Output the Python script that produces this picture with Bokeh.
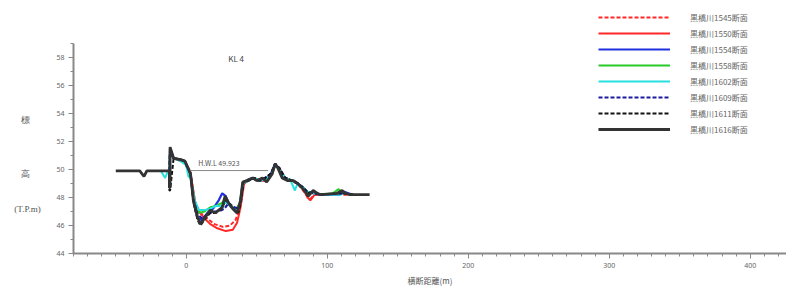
from bokeh.plotting import figure
from bokeh.models import FixedTicker, Label, Range1d
from bokeh.layouts import row
from bokeh.embed import file_html
from bokeh.resources import INLINE

# ---------------- data ----------------
names = ["黒橋川1545断面", "黒橋川1550断面", "黒橋川1554断面", "黒橋川1558断面",
         "黒橋川1602断面", "黒橋川1609断面", "黒橋川1611断面", "黒橋川1616断面"]

x1545 = [-12, -11.5, -9, -4, -1, 3, 6, 10, 15, 20, 26, 31, 35, 38, 40.5, 43, 47, 50, 54, 57, 61, 63, 65, 68, 72, 76, 79, 82, 85, 88, 91, 94, 100, 108, 112, 118]
y1545 = [49.9, 51.4, 50.8, 50.7, 50.6, 49.8, 47.6, 46.9, 46.5, 46.1, 45.9, 46.0, 46.4, 47.3, 48.9, 49.2, 49.4, 49.2, 49.4, 49.1, 49.7, 50.4, 50.1, 49.4, 49.2, 49.2, 49.0, 48.6, 48.2, 47.9, 48.2, 48.2, 48.2, 48.3, 48.2, 48.2]

x1550 = [-12, -11.5, -9, -4, -1, 3, 7, 12, 17, 22, 28, 33, 36, 38.5, 41, 44, 48, 52, 56, 60, 63, 66, 70, 75, 79, 83, 86, 88, 91, 95, 105, 110, 115]
y1550 = [49.9, 51.4, 50.8, 50.6, 50.5, 49.7, 47.3, 46.6, 46.1, 45.8, 45.6, 45.7, 46.2, 47.3, 49.0, 49.2, 49.4, 49.2, 49.2, 49.6, 50.3, 50.1, 49.4, 49.2, 49.0, 48.6, 48.0, 47.8, 48.2, 48.2, 48.2, 48.4, 48.2]

x1554 = [-12, -11.5, -9, -4, -1, 3, 5.5, 8, 11, 15, 19, 23, 25.5, 28, 31, 35, 38, 40, 44, 48, 52, 56, 60, 63, 66, 70, 75, 79, 83, 86, 90, 95, 108, 112, 118]
y1554 = [49.9, 51.5, 50.8, 50.7, 50.5, 49.6, 47.5, 46.5, 46.4, 46.9, 47.2, 47.8, 48.3, 48.1, 47.4, 47.0, 47.5, 49.0, 49.3, 49.4, 49.2, 49.3, 49.7, 50.4, 50.0, 49.4, 49.2, 49.0, 48.7, 48.3, 48.4, 48.2, 48.2, 48.4, 48.2]

x1558 = [-12, -11.5, -9, -4, -1, 3, 6, 9, 13, 17, 21, 25, 28, 31, 35, 38, 40, 44, 48, 52, 56, 60, 63, 66, 70, 75, 79, 83, 86, 90, 95, 104, 108, 111, 118]
y1558 = [49.9, 51.4, 50.8, 50.7, 50.5, 49.6, 47.6, 46.9, 47.0, 47.3, 47.4, 47.6, 47.9, 47.5, 47.1, 47.6, 49.0, 49.2, 49.4, 49.2, 49.3, 49.6, 50.3, 50.0, 49.4, 49.2, 49.0, 48.7, 48.4, 48.4, 48.2, 48.3, 48.6, 48.3, 48.2]

x1602 = [-18, -15, -13, -12, -11.5, -9, -4, 0, 1.5, 3, 6, 9, 13, 17, 21, 25, 28, 31, 35, 38, 40, 44, 48, 52, 56, 60, 63, 66, 70, 74, 77, 79, 83, 86, 90, 95, 110]
y1602 = [49.9, 49.4, 49.9, 49.9, 51.3, 50.8, 50.6, 50.3, 49.5, 49.4, 47.8, 47.1, 47.1, 47.2, 47.4, 47.4, 47.7, 47.4, 47.0, 47.5, 49.0, 49.2, 49.4, 49.2, 49.3, 49.6, 50.3, 50.0, 49.4, 49.2, 48.5, 49.0, 48.7, 48.4, 48.3, 48.2, 48.2]

x1609 = [-12, -11.5, -9, -4, -1, 3, 5, 8, 11, 15, 19, 23, 27, 30, 34, 37, 39, 40.5, 44, 48, 52, 56, 60, 63, 66, 70, 75, 79, 83, 86, 90, 95, 110, 118]
y1609 = [49.9, 51.5, 50.8, 50.7, 50.6, 49.7, 47.9, 46.8, 46.5, 46.8, 47.0, 47.0, 47.2, 47.6, 47.3, 47.2, 48.0, 49.1, 49.2, 49.4, 49.2, 49.4, 49.7, 50.4, 50.1, 49.4, 49.2, 49.0, 48.7, 48.4, 48.3, 48.2, 48.3, 48.2]

x1611 = [-12, -12, -11.5, -9, -4, -1, 3, 5, 8, 10, 13.5, 17, 21, 25, 28, 31, 34, 37, 39, 40.5, 44, 48, 52, 56, 60, 63, 66, 70, 75, 79, 83, 86, 90, 95, 110, 120]
y1611 = [49.9, 48.5, 48.5, 50.8, 50.7, 50.6, 49.7, 47.7, 46.4, 46.0, 46.5, 46.9, 46.9, 47.2, 47.8, 47.5, 47.1, 46.9, 47.8, 49.1, 49.2, 49.4, 49.2, 49.4, 49.7, 50.4, 50.1, 49.4, 49.2, 49.0, 48.7, 48.3, 48.4, 48.2, 48.3, 48.2]

x1616 = [-50, -33, -30, -28, -12, -12, -11.5, -11.5, -9, -4, -1, 3, 5, 8, 10, 13.5, 17, 20.5, 25.5, 27.5, 30, 33, 36, 38.5, 40, 43, 47, 50, 54, 57, 61, 63, 65, 68, 72, 76, 79, 82, 84.5, 86.5, 90, 93, 95, 107, 110.5, 113, 116, 130]
y1616 = [49.9, 49.9, 49.5, 49.9, 49.9, 48.7, 48.7, 51.6, 50.8, 50.7, 50.6, 49.7, 47.8, 46.6, 46.1, 46.6, 47.1, 46.9, 47.3, 48.1, 47.6, 47.2, 46.9, 47.8, 49.1, 49.2, 49.4, 49.2, 49.4, 49.1, 49.7, 50.4, 50.1, 49.4, 49.2, 49.2, 49.0, 48.7, 48.4, 48.1, 48.5, 48.3, 48.2, 48.3, 48.5, 48.3, 48.2, 48.2]

hwl_value = 49.923
hwl_x = [3, 58]
x_major = [0, 100, 200, 300, 400]
y_major = [44, 46, 48, 50, 52, 54, 56, 58]
ylabel_parts = ["標", "高", "(T.P.m)"]
ylabel_at = [53.5, 49.7, 47.2]

series = [
    (x1545, y1545, "#ff2828", "4 2", 2.0),
    (x1550, y1550, "#ff2828", "solid", 2.0),
    (x1554, y1554, "#2030e0", "solid", 2.2),
    (x1558, y1558, "#28cc28", "solid", 2.0),
    (x1602, y1602, "#28e0e0", "solid", 2.0),
    (x1609, y1609, "#1a1aa0", "4 2", 2.2),
    (x1611, y1611, "#111111", "4 2", 2.0),
    (x1616, y1616, "#333333", "solid", 2.8),
]

FONT = "Noto Sans CJK JP"
H = 289
SIDE_W = 45
YR = (44, 62.07)

# ---------------- left strip with the vertical axis title ----------------
side = figure(width=SIDE_W, height=H, output_backend="svg", toolbar_location=None,
              x_range=Range1d(0, SIDE_W), y_range=Range1d(*YR),
              x_axis_location=None, y_axis_location=None,
              min_border=0, min_border_bottom=36)
side.outline_line_color = None
side.xgrid.visible = False
side.ygrid.visible = False
side.text(x=[25, 25, 27], y=ylabel_at, text=ylabel_parts,
          text_font=FONT, text_font_size={"value": "9px"}, text_color="#555555",
          text_baseline="middle", text_align="center")

# ---------------- main chart ----------------
p = figure(width=786 - SIDE_W, height=H, output_backend="svg", toolbar_location=None,
           x_range=Range1d(-80, 425.7), y_range=Range1d(*YR),
           min_border_left=28, min_border_right=0, min_border_top=0, min_border_bottom=36)
p.outline_line_color = None
p.xgrid.visible = False
p.ygrid.visible = False

for (xs, ys, c, dash, w), nm in zip(series, names):
    p.line(xs, ys, line_color=c, line_dash=dash, line_width=w, legend_label=nm)

p.line(hwl_x, [hwl_value, hwl_value], line_color="#888888", line_width=1)
p.add_layout(Label(x=8.5, y=50.43, text="H.W.L  %.3f" % hwl_value,
                   text_font=FONT, text_font_size="7px", text_color="#555555",
                   text_baseline="middle"))
p.add_layout(Label(x=29.8, y=57.93, text="KL 4", text_font=FONT, text_font_size="8px",
                   text_color="#444444", text_baseline="middle"))

for ax in (p.xaxis[0], p.yaxis[0]):
    ax.axis_line_color = "#888888"
    ax.axis_line_width = 2
    ax.major_tick_line_color = "#888888"
    ax.minor_tick_line_color = "#888888"
    ax.major_tick_in = 0
    ax.minor_tick_in = 0
    ax.major_tick_out = 5
    ax.minor_tick_out = 3
    ax.major_label_text_font = "Noto Sans"
    ax.major_label_text_font_size = "7px"
    ax.major_label_text_color = "#666666"
    ax.major_label_standoff = 4

p.xaxis.ticker = FixedTicker(ticks=x_major, minor_ticks=list(range(-80, 421, 10)))
p.yaxis.ticker = FixedTicker(ticks=y_major, minor_ticks=list(range(44, 60)))
p.yaxis.bounds = (44, 59)
p.xaxis.axis_label = "横断距離(m)"
p.xaxis.axis_label_text_font = FONT
p.xaxis.axis_label_text_font_size = "8px"
p.xaxis.axis_label_text_font_style = "normal"
p.xaxis.axis_label_text_color = "#555555"
p.xaxis.axis_label_standoff = 4

lg = p.legend[0]
lg.location = (525, 116)
lg.border_line_color = None
lg.background_fill_alpha = 0
lg.padding = 0
lg.margin = 0
lg.spacing = 0
lg.glyph_width = 72
lg.glyph_height = 16
lg.label_height = 16
lg.label_standoff = 20
lg.label_text_font = FONT
lg.label_text_font_size = "8px"
lg.label_text_color = "#666666"

layout = row(side, p)
open("out.html", "w").write(file_html(layout, INLINE))
